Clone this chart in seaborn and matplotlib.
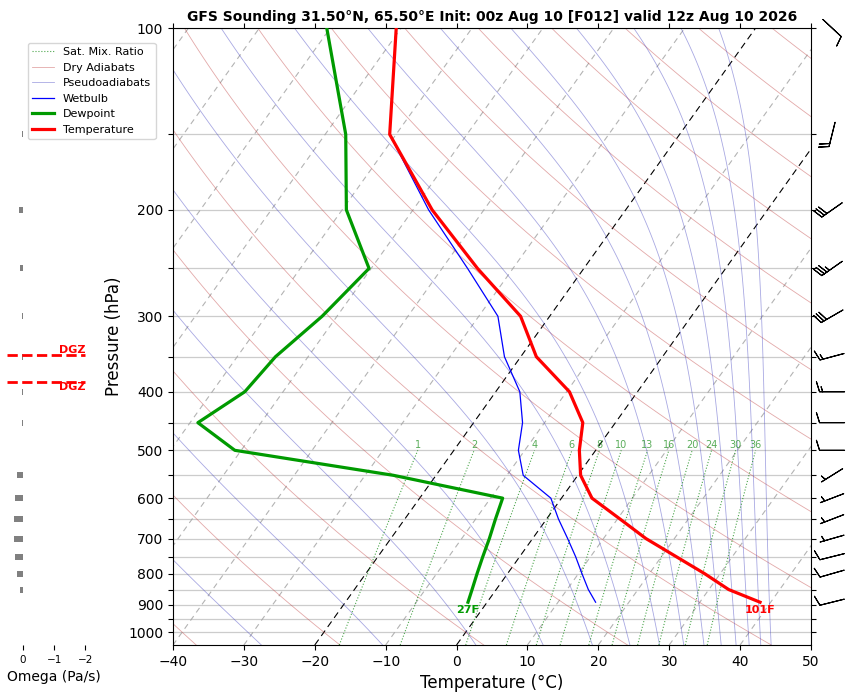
import numpy as np
import matplotlib
matplotlib.use("Agg")
import matplotlib.pyplot as plt
from matplotlib.lines import Line2D
import seaborn as sns

# Sounding (hPa, degC, kt, Pa/s)
pressure = [892, 850, 800, 750, 700, 650, 600, 550, 500, 450, 400, 350, 300, 250, 200, 150, 100]
temperature = [38.5, 32.8, 27.8, 22.1, 16.0, 10.4, 4.3, 0.4, -2.3, -4.6, -9.6, -17.8, -24.1, -35.0, -47.3, -60.9, -70.7]
dewpoint = [-2.7, -3.4, -4.3, -5.2, -6.1, -7.2, -8.3, -26.0, -50.9, -58.9, -55.4, -54.6, -52.1, -50.3, -59.4, -67.1, -80.5]
wetbulb = [15.3, 13.0, 10.5, 7.9, 4.95, 1.7, -1.5, -7.7, -10.9, -13.1, -16.6, -22.3, -27.3, -36.4, -47.8, -60.9, np.nan]

barb_p = [892, 800, 750, 700, 650, 600, 550, 500, 450, 400, 350, 300, 250, 200, 150, 100]
barb_dir = [256, 254, 256, 254, 249, 249, 238, 270, 270, 270, 255, 240, 235, 235, 194, 133]
barb_spd = [10, 10, 10, 5, 5, 5, 5, 10, 10, 15, 15, 30, 35, 30, 20, 10]

omega_p = [850, 800, 750, 700, 650, 600, 550, 500, 450, 400, 350, 300, 250, 200, 150]
omega = [0.10, 0.19, 0.26, 0.29, 0.29, 0.26, 0.19, 0.0, 0.02, 0.02, 0.02, 0.02, 0.10, 0.13, 0.02]

mix_ratios = [1, 2, 4, 6, 8, 10, 13, 16, 20, 24, 30, 36]

title = "GFS Sounding 31.50\u00b0N, 65.50\u00b0E Init: 00z Aug 10 [F012] valid 12z Aug 10 2026"

P_BOT, P_TOP = 1050, 100
K = 60.9  # skew, degC per decade of pressure


def skew(t, p):
    return np.asarray(t, float) + K * np.log10(P_BOT / np.asarray(p, float))


def sat_vp(tc):
    return 6.112 * np.exp(17.67 * tc / (tc + 243.5))


W, H = 856, 697
fig = plt.figure(figsize=(W / 100, H / 100), dpi=100)
ax = fig.add_axes([173 / W, 1 - 645 / H, 638 / W, 617 / H])
ax.set_yscale("log")

pp = np.geomspace(P_BOT, P_TOP, 120)

# isotherms
for t0 in range(-130, 51, 10):
    hi = t0 in (-20, 0)
    ax.plot(skew(t0, pp), pp, ls=(0, (6, 4)) if hi else (0, (5, 4)),
            color="black" if hi else "#a0a0a0", lw=0.8, alpha=1 if hi else 0.8, zorder=1)

# dry adiabats
for th in np.arange(-40, 241, 20):
    t = (th + 273.15) * (pp / 1000.0) ** 0.2857 - 273.15
    ax.plot(skew(t, pp), pp, color="#c04040", lw=0.6, alpha=0.45, zorder=1)

# pseudoadiabats (constant theta-e)
the = np.arange(-30, 231, 20) + 273.15
lo = np.full((len(the), len(pp)), 150.0)
hi_ = np.full((len(the), len(pp)), 345.0)
for _ in range(60):
    mid = 0.5 * (lo + hi_)
    es = np.minimum(sat_vp(mid - 273.15), 0.5 * pp)
    rs = 0.622 * es / (pp - es)
    te = mid * (1000.0 / pp) ** 0.2857 * np.exp(2.5e6 * rs / (1005.0 * mid))
    big = te > the[:, None]
    hi_ = np.where(big, mid, hi_)
    lo = np.where(big, lo, mid)
for row in 0.5 * (lo + hi_):
    ax.plot(skew(row - 273.15, pp), pp, color="#4040c0", lw=0.6, alpha=0.45, zorder=1)

# saturation mixing ratio lines
pm = np.geomspace(P_BOT, 500, 60)
for w in mix_ratios:
    e = pm * w / (622.0 + w)
    le = np.log(e / 6.112)
    td = 243.5 * le / (17.67 - le)
    ax.plot(skew(td, pm), pm, color="green", ls=":", lw=0.8, alpha=0.7, zorder=1)
    ax.text(skew(td[-1], 500), 500, str(w), color="green", alpha=0.65, fontsize=7,
            ha="center", va="bottom", zorder=2)

# profiles
sns.lineplot(x=skew(wetbulb, pressure), y=pressure, sort=False, estimator=None,
             color="blue", lw=0.9, ax=ax, zorder=4)
sns.lineplot(x=skew(dewpoint, pressure), y=pressure, sort=False, estimator=None,
             color="#009a00", lw=2.3, ax=ax, zorder=5)
sns.lineplot(x=skew(temperature, pressure), y=pressure, sort=False, estimator=None,
             color="red", lw=2.3, ax=ax, zorder=5)

tf = temperature[0] * 9 / 5 + 32
tdf = dewpoint[0] * 9 / 5 + 32
ax.annotate(f"{tf:.0f}F", (skew(temperature[0], pressure[0]), pressure[0]), xytext=(0, -2),
            textcoords="offset points", ha="center", va="top", color="red",
            fontweight="bold", fontsize=8)
ax.annotate(f"{tdf:.0f}F", (skew(dewpoint[0], pressure[0]), pressure[0]), xytext=(0, -2),
            textcoords="offset points", ha="center", va="top", color="#009a00",
            fontweight="bold", fontsize=8)

# wind barbs
d = np.deg2rad(barb_dir)
u = -np.array(barb_spd) * np.sin(d)
v = -np.array(barb_spd) * np.cos(d)
ax.barbs(np.full(len(barb_p), 1.033), barb_p, u, v, transform=ax.get_yaxis_transform(),
         clip_on=False, length=6, pivot="middle", lw=0.8, color="black")

ax.set_ylim(P_BOT, P_TOP)
ax.set_xlim(-40, 50)
yt = np.arange(100, 1001, 50)
ax.set_yticks(yt)
ax.set_yticklabels([str(t) if t % 100 == 0 else "" for t in yt])
ax.yaxis.set_minor_locator(matplotlib.ticker.NullLocator())
ax.set_xticks(np.arange(-40, 51, 10))
ax.tick_params(top=True, right=True, labelsize=10)
ax.grid(axis="y", color="#cccccc", lw=0.9, zorder=0)
ax.set_axisbelow(True)
ax.set_xlabel("Temperature (\u00b0C)", fontsize=12)
ax.set_ylabel("Pressure (hPa)", fontsize=12)
ax.set_title(title, fontweight="bold", fontsize=10, pad=5)

# omega panel
ax2 = fig.add_axes([7.5 / W, 1 - 645 / H, 93.3 / W, 617 / H])
ax2.set_yscale("log")
op = np.array(omega_p, float)
ax2.barh(op, omega, height=op * 0.023, color="gray")
ax2.set_ylim(P_BOT, P_TOP)
ax2.set_xlim(0.5, -2.5)
ax2.set_xticks([0, -1, -2])
ax2.tick_params(axis="x", labelsize=7.5)
ax2.tick_params(axis="y", left=False, labelleft=False, which="both")
for s in ax2.spines.values():
    s.set_visible(False)
ax2.set_xlabel("Omega (Pa/s)", fontsize=10)

# dendritic growth zone (-12 to -18 C)
lp = np.log(pressure)
t_arr = np.array(temperature)
dgz = []
for tt in (-18.0, -12.0):
    i = np.where((t_arr[:-1] >= tt) & (t_arr[1:] < tt))[0][0]
    f = (t_arr[i] - tt) / (t_arr[i] - t_arr[i + 1])
    dgz.append(np.exp(lp[i] + f * (lp[i + 1] - lp[i])))
ax2.plot([0.5, -2.0], [dgz[0]] * 2, color="red", ls="--", lw=2)
ax2.plot([0.5, -2.0], [dgz[1]] * 2, color="red", ls="--", lw=2)
ax2.text(-2.0, dgz[0], "DGZ", ha="right", va="bottom", color="red", fontweight="bold", fontsize=8)
ax2.text(-2.0, dgz[1], "DGZ", ha="right", va="top", color="red", fontweight="bold", fontsize=8)

handles = [
    Line2D([], [], color="green", ls=":", lw=0.8, alpha=0.7, label="Sat. Mix. Ratio"),
    Line2D([], [], color="#c04040", lw=0.6, alpha=0.45, label="Dry Adiabats"),
    Line2D([], [], color="#4040c0", lw=0.6, alpha=0.45, label="Pseudoadiabats"),
    Line2D([], [], color="blue", lw=0.9, label="Wetbulb"),
    Line2D([], [], color="#009a00", lw=2.3, label="Dewpoint"),
    Line2D([], [], color="red", lw=2.3, label="Temperature"),
]
fig.legend(handles=handles, loc="upper left", bbox_to_anchor=(22 / W, 1 - 37 / H), fontsize=8)

fig.savefig("out.png", dpi=100)
